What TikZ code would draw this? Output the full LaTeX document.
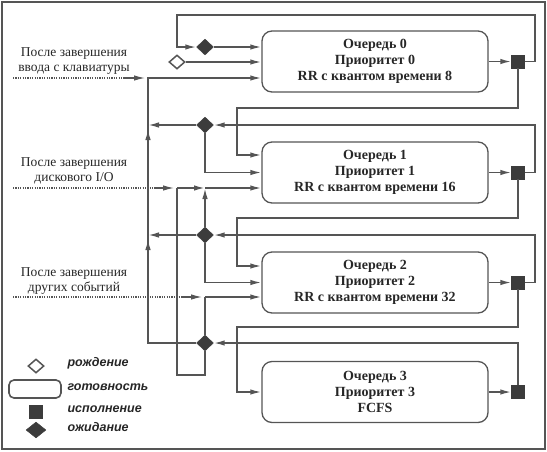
\documentclass[tikz,border=0pt]{standalone}
\usepackage{fontspec}
\setmainfont{Liberation Serif}
\newfontfamily\legendfont{Liberation Sans}
\usetikzlibrary{shapes.geometric,arrows.meta}
\definecolor{linegray}{HTML}{555555}
\definecolor{fillgray}{HTML}{3C3C3C}

\begin{document}
\begin{tikzpicture}[x=1pt,y=-1pt]
        % Define styles
        \tikzset{
            queue/.style={rectangle, rounded corners=10pt, draw=linegray, line width=1.3pt, minimum width=226pt, minimum height=61pt, align=center, text=black!85, font=\bfseries\fontsize{14}{16}\selectfont},
            exec/.style={rectangle, draw=fillgray, fill=fillgray, minimum size=13pt, inner sep=0pt},
            wait/.style={diamond, draw=fillgray, fill=fillgray, minimum width=17pt, minimum height=16pt, inner sep=0pt},
            birth/.style={diamond, draw=linegray, fill=white, line width=1.5pt, minimum width=16pt, minimum height=14pt, inner sep=0pt},
            event/.style={align=center, text=black!85, font=\fontsize{13.5}{15}\selectfont},
            legend/.style={anchor=west, text=black!85, font=\legendfont\bfseries\itshape\fontsize{12.5}{12}\selectfont},
            arrow/.style={-{Latex[length=11pt,width=5.5pt]}, draw=linegray, line width=1.6pt},
            line/.style={draw=linegray, line width=1.6pt},
            dotline/.style={draw=linegray, line width=1.2pt, dash pattern=on 1.2pt off 1.2pt},
            tiparrow/.style={arrow, line width=1.2pt, shorten >=3pt}
        }

        \useasboundingbox (0,0) rectangle (547,451);
        \draw[linegray, line width=2pt] (2,2) rectangle (545,449);

        % Nodes
        \node[queue] (q0) at (375,61.5) {Очередь 0\\Приоритет 0\\RR с квантом времени 8};
        \node[queue] (q1) at (375,172.5) {Очередь 1\\Приоритет 1\\RR с квантом времени 16};
        \node[queue] (q2) at (375,282.5) {Очередь 2\\Приоритет 2\\RR с квантом времени 32};
        \node[queue] (q3) at (375,392) {Очередь 3\\Приоритет 3\\FCFS};

        \node[exec] (e0) at (518,61.5) {};
        \node[exec] (e1) at (518,172.5) {};
        \node[exec] (e2) at (518,282.5) {};
        \node[exec] (e3) at (518,392) {};

        \node[wait] (w0) at (205,47) {};
        \node[wait] (w1) at (205,125) {};
        \node[wait] (w2) at (205,235) {};
        \node[wait] (w3) at (205,343) {};
        \node[birth] (b0) at (177,62) {};

        \node[event] (kbtext) at (74,61) {После завершения\\ввода с клавиатуры};
        \node[event] (dktext) at (74,171) {После завершения\\дискового I/O};
        \node[event] (ottext) at (74,281) {После завершения\\других событий};

        % Junctions
        \coordinate (top0) at (535,15);
        \coordinate (in0) at (177,47);
        \coordinate (kbstart) at (13,78);
        \coordinate (kbtip) at (125,78);
        \coordinate (kb) at (148,78);
        \coordinate (j1) at (148,125);
        \coordinate (j2) at (148,235);
        \coordinate (c0) at (237,108);
        \coordinate (top1) at (535,125);
        \coordinate (c1) at (237,218);
        \coordinate (top2) at (535,235);
        \coordinate (c2) at (237,327);
        \coordinate (dkstart) at (13,188);
        \coordinate (dktip) at (154,188);
        \coordinate (dk) at (177,188);
        \coordinate (dkm) at (205,188);
        \coordinate (otstart) at (13,297);
        \coordinate (ottip) at (182,297);
        \coordinate (ot) at (205,297);
        \coordinate (lp) at (177,375);

        % Arrows
        \draw[arrow] (q0) -- (e0);
        \draw[arrow] (e0) -| (top0) -| (in0) -- (w0);
        \draw[arrow] (w0) -- (w0 -| q0.west);
        \draw[arrow] (b0) -- (b0 -| q0.west);
        \draw[dotline] (kbstart) -- (kbtip);
        \draw[tiparrow] (kbtip) -- (kb);
        \draw[arrow] (j1) -- (kb) -- (kb -| q0.west);
        \draw[arrow] (e0) |- (c0) |- (q1.west |- 0,155);

        \draw[arrow] (q1) -- (e1);
        \draw[arrow] (e1) -| (top1) -- (w1);
        \draw[arrow] (w1) -- (j1);
        \draw[arrow] (w1) |- (q1);
        \draw[dotline] (dkstart) -- (dktip);
        \draw[tiparrow] (dktip) -- (dk);
        \draw[arrow] (dk) -- (dkm);
        \draw[arrow] (dkm) -- (dkm -| q1.west);
        \draw[arrow] (e1) |- (c1) |- (q2.west |- 0,266);

        \draw[arrow] (q2) -- (e2);
        \draw[arrow] (e2) -| (top2) -- (w2);
        \draw[arrow] (w2) -- (j2);
        \draw[arrow, shorten >=4pt] (j2) -- (j1);
        \draw[line] (j2) -- (j1);
        \draw[arrow] (w2) -- (dkm);
        \draw[arrow] (w2) |- (q2);
        \draw[dotline] (otstart) -- (ottip);
        \draw[tiparrow] (ottip) -- (ot);
        \draw[arrow] (ot) -- (ot -| q2.west);
        \draw[arrow] (e2) |- (c2) |- (q3);

        \draw[arrow] (q3) -- (e3);
        \draw[arrow] (e3) |- (w3);
        \draw[arrow, shorten >=4pt] (w3) -| (j2);
        \draw[line] (w3) -| (j2);
        \draw[line] (dk) -- (lp) -| (w3);
        \draw[line] (w3) -- (ot);

        % Legend
        \node[birth] (lb) at (36,366) {};
        \node[rectangle, rounded corners=5pt, draw=linegray, line width=1.6pt, minimum width=52pt, minimum height=18pt] (lr) at (35,389) {};
        \node[exec] (le) at (36,412) {};
        \node[wait, minimum width=20pt, minimum height=16pt] (lw) at (36,430) {};
        \node[legend] (lbt) at (64,363) {рождение};
        \node[legend] (lrt) at (64,387) {готовность};
        \node[legend] (let) at (64,409) {исполнение};
        \node[legend] (lwt) at (64,427) {ожидание};
    \end{tikzpicture}
\end{document}
